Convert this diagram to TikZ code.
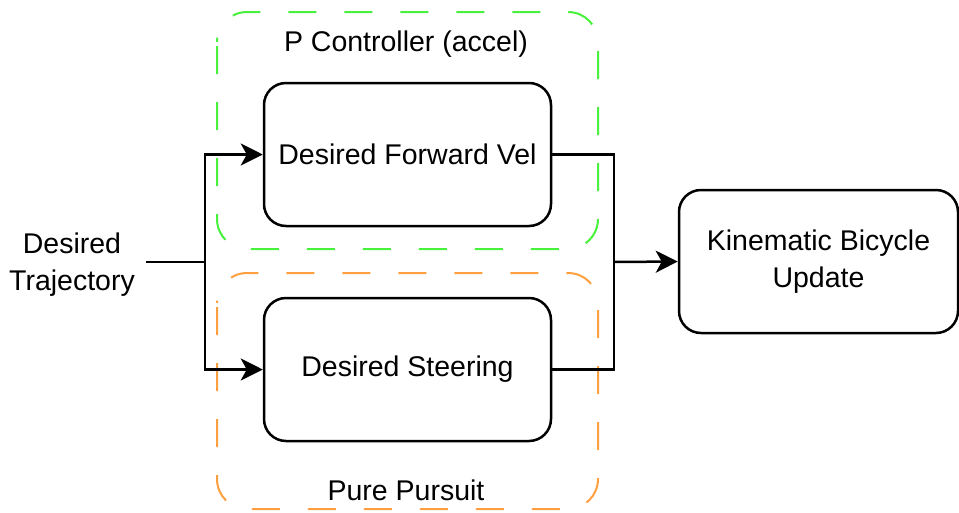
\documentclass[tikz,border=0pt]{standalone}
\usepackage{fontspec}
\setmainfont{Liberation Sans}
\usetikzlibrary{arrows.meta,positioning}

\definecolor{accelgreen}{RGB}{72,242,60}
\definecolor{pursuitorange}{RGB}{255,160,64}

\begin{document}
\begin{tikzpicture}[x=1pt, y=-1pt,
  txt/.style={font=\fontsize{28.5}{37}\selectfont, align=center},
  block/.style={txt, draw, line width=2.5pt, rounded corners=22pt,
    minimum width=287pt, minimum height=143pt},
  group/.style={line width=2pt, rounded corners=30pt,
    dash pattern=on 28pt off 28pt, dash phase=-4pt},
  wire/.style={line width=2.5pt},
  tip/.style={wire, -{Stealth[length=22pt, width=22pt, inset=6pt]}}]

\useasboundingbox (0,0) rectangle (959,512);

% ---- controller groups -----------------------------------------------------
\draw[group, accelgreen]    (217,12)  rectangle (598,249);
\draw[group, pursuitorange] (217,273) rectangle (598,509);
\node[txt] (accel)   at (406,44)  {P Controller (accel)};
\node[txt] (pursuit) at (406,490) {Pure Pursuit};

% ---- blocks ----------------------------------------------------------------
\node[txt]   (traj)  at (72,265)      {Desired\\Trajectory};
\node[block] (fwd)   at (407.5,154.5) {Desired Forward Vel};
\node[block] (steer) at (407.5,369.5) {Desired Steering};
\node[block, minimum width=279pt] (bike) at (818.5,261.5)
  {\raisebox{-3pt}{Kinematic Bicycle}\\\raisebox{-3pt}{Update}};

% ---- connectors ------------------------------------------------------------
\coordinate (split) at (205,262);
\coordinate (merge) at (614,262);

\draw[wire, shorten <=8pt] (traj.east |- split) -- (split);
\draw[tip] (split) |- (fwd.west);
\draw[tip] (split) |- (steer.west);
\draw[wire] (fwd.east) -| (merge);
\draw[wire] (steer.east) -| (merge);
\draw[tip] (merge) -- (bike.west);

\end{tikzpicture}
\end{document}
